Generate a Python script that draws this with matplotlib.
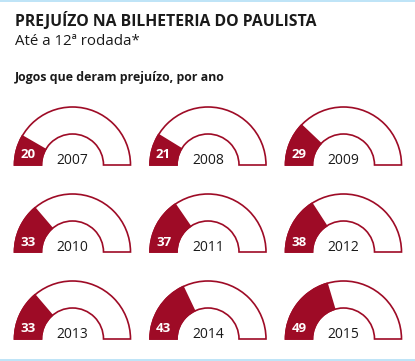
import matplotlib
matplotlib.use("Agg")
import matplotlib.pyplot as plt
from matplotlib.patches import Wedge, Rectangle

# ---- data ----
years = [2007, 2008, 2009, 2010, 2011, 2012, 2013, 2014, 2015]
loss_games = [20, 21, 29, 33, 37, 38, 33, 43, 49]
total_games = 120

title = "PREJUÍZO NA BILHETERIA DO PAULISTA"
subtitle = "Até a 12ª rodada*"
section = "Jogos que deram prejuízo, por ano"

# ---- style ----
RED = "#9e0b26"
DARK = "#1a1a1a"
BLUE = "#bfe4f7"
FONT = ["Open Sans", "DejaVu Sans"]

W, H = 415, 361
fig = plt.figure(figsize=(W / 100, H / 100), dpi=100)
ax = fig.add_axes([0, 0, 1, 1])
ax.set_xlim(0, W)
ax.set_ylim(0, H)
ax.axis("off")

def Y(ypx):
    return H - ypx

# decorative rules
ax.add_patch(Rectangle((0, Y(1.5)), W, 1.5, color=BLUE, lw=0))
ax.add_patch(Rectangle((0, Y(361)), W, 1.6, color=BLUE, lw=0))

ax.text(15, Y(26), title, family=FONT, weight="bold", fontsize=11.3,
        color=DARK, va="baseline", ha="left")
ax.text(15, Y(45), subtitle, family=FONT, fontsize=10.8,
        color=DARK, va="baseline", ha="left")
ax.text(15, Y(81), section, family=FONT, weight="bold", fontsize=8.9,
        color=DARK, va="baseline", ha="left")

col_x = [72.5, 208, 343.5]
row_y = [165, 252, 339]
R_OUT, R_IN = 58, 31
ring = R_OUT - R_IN

for i, (yr, v) in enumerate(zip(years, loss_games)):
    cx = col_x[i % 3]
    cy = Y(row_y[i // 3])
    ang = 180 * v / total_games
    # white remainder with outline
    ax.add_patch(Wedge((cx, cy), R_OUT, 0, 180, width=ring,
                       facecolor="white", edgecolor=RED, lw=1.2))
    # filled part
    ax.add_patch(Wedge((cx, cy), R_OUT, 180 - ang, 180, width=ring,
                       facecolor=RED, edgecolor=RED, lw=1.2))
    ax.text(cx - (R_OUT + R_IN) / 2, cy + 10, str(v), family=FONT,
            weight="bold", fontsize=9.5, color="white",
            ha="center", va="center")
    ax.text(cx, cy + 1.2, str(yr), family=FONT, fontsize=10,
            color=DARK, ha="center", va="baseline")

fig.savefig("out.png", dpi=100)
